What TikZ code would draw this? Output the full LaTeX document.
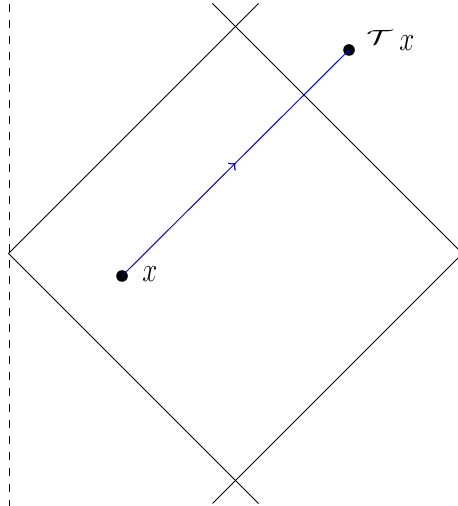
\documentclass[tikz,border=0pt]{standalone}
\usepackage{graphicx}
\usetikzlibrary{decorations.markings}
\newcommand{\myx}{\scalebox{0.78}[1]{$x$}}
\begin{document}
\begin{tikzpicture}[x=0.5pt,y=-0.5pt,
  edge/.style={line width=0.5pt,black},
  dot/.style={circle,fill=black,inner sep=0pt,minimum size=5.8pt},
  flow/.style={blue,line width=0.5pt,postaction={decorate},
    decoration={markings,mark=at position 0.5 with {\arrow[scale=1.4]{to}}}},
  lab/.style={inner sep=0pt,anchor=base west,font=\fontsize{18.5}{22}\selectfont}]
\useasboundingbox (0,0) rectangle (458,506);
% diamond vertices and line ends
\coordinate (L) at (8.5,253.5);
\coordinate (R) at (462.5,253.5);
\coordinate (Tp) at (235.5,26.5);
\coordinate (Bt) at (235.5,480.5);
\coordinate (TR) at (258.5,3.5);
\coordinate (TL) at (212.5,3.5);
\coordinate (BR) at (258.5,503.5);
\coordinate (BL) at (212.5,503.5);
% dashed boundary
\coordinate (D1) at (9,0);
\coordinate (D2) at (9,506);
\draw[edge,dash pattern=on 4pt off 4pt,dash phase=-2pt] (D1) -- (D2);
\draw[edge] (L) -- (TR);
\draw[edge] (R) -- (TL);
\draw[edge] (L) -- (BR);
\draw[edge] (R) -- (BL);
% points
\node[dot] (x) at (122,276) {};
\node[dot] (Tx) at (349,50) {};
\draw[flow] (x.center) -- (Tx.center);
\node[lab] (xl) at (142,282) {\myx};
\node[lab] (Txl) at (366,51) {\raisebox{3pt}{\resizebox{13pt}{7pt}{\fontsize{16}{19}\selectfont$\mathcal{T}$}}\hspace{3.5pt}\myx};
\end{tikzpicture}
\end{document}
